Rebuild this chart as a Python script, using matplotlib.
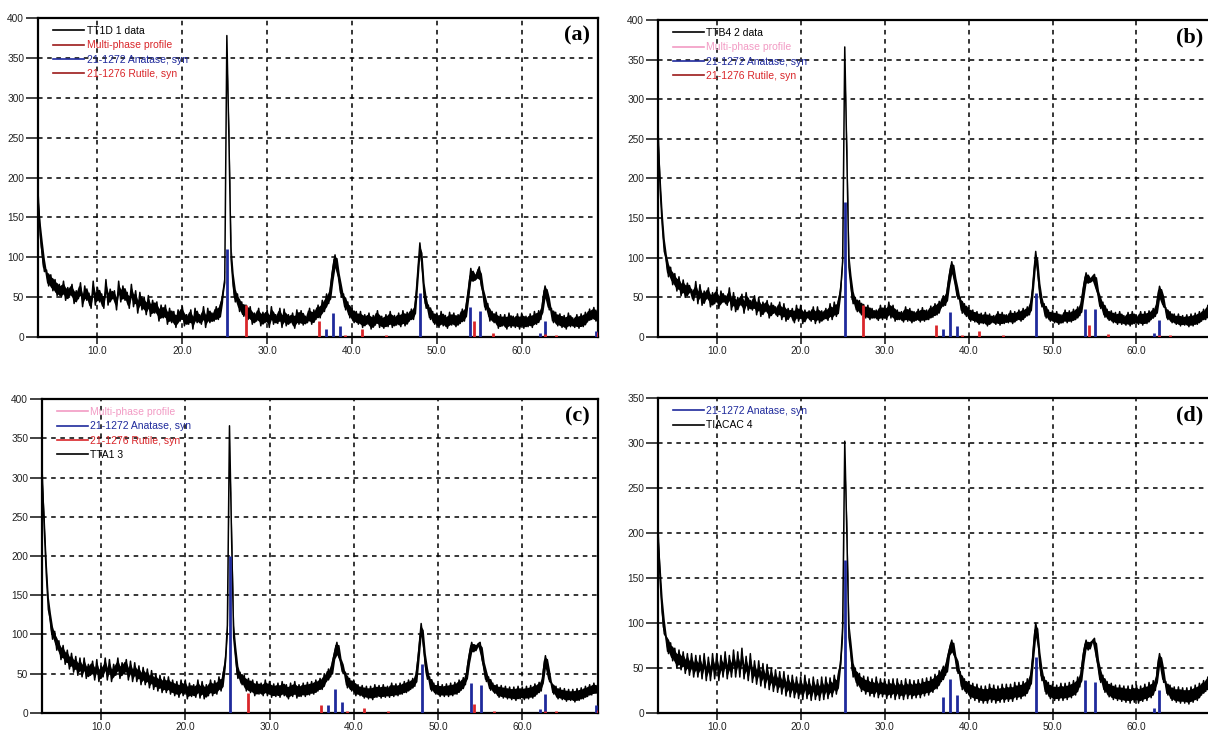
import matplotlib.pyplot as plt
import numpy as np

plt.rcParams['font.family'] = ['Liberation Sans', 'DejaVu Sans']

# 2-theta grid of the scans (deg), step 0.25
two_theta = np.arange(3.0, 69.01, 0.25)

# intensities, one group of 4 = one degree
int_a = [182, 128, 104, 82,   84, 64, 78, 58,   72, 52, 66, 50,   70, 46, 62, 52,
         66, 42, 58, 48,   68, 38, 64, 46,   55, 36, 70, 40,   62, 44, 54, 36,
         72, 40, 60, 48,   58, 34, 70, 44,   64, 46, 56, 36,   66, 38, 58, 30,
         56, 34, 50, 28,   52, 26, 46, 30,   44, 20, 40, 24,   40, 16, 36, 18,
         32, 12, 34, 20,   38, 14, 28, 16,   34, 10, 36, 18,   28, 16, 38, 12,
         36, 18, 30, 20,   38, 22, 40, 50,   68, 378, 245, 98,  64, 44, 54, 32,
         44, 26, 40, 22,   38, 16, 30, 20,   36, 14, 31, 18,   34, 12, 38, 16,
         28, 17, 36, 12,   35, 14, 28, 18,   30, 11, 34, 16,   33, 15, 26, 18,
         36, 16, 34, 22,   40, 24, 46, 32,   54, 42, 64, 86,   103, 84, 72, 50,
         54, 34, 44, 24,   36, 18, 32, 16,   32, 12, 28, 16,   30, 10, 27, 15,
         33, 12, 26, 11,   28, 13, 32, 12,   27, 15, 30, 13,   33, 14, 31, 20,
         35, 22, 46, 82,   118, 90, 52, 36,  40, 22, 32, 16,   30, 12, 32, 14,
         27, 11, 31, 15,   30, 13, 28, 17,   35, 20, 42, 60,   86, 70, 72, 80,
         88, 64, 54, 34,   42, 20, 32, 18,   31, 11, 28, 14,   28, 10, 30, 12,
         26, 12, 29, 10,   30, 11, 26, 13,   29, 12, 32, 16,   33, 22, 47, 64,
         52, 34, 36, 18,   31, 14, 29, 12,   27, 10, 30, 13,   24, 12, 28, 11,
         29, 13, 31, 19,   35, 22, 37, 20,   27]

int_b = [264, 188, 142, 108,  98, 76, 88, 66,   80, 58, 76, 52,   72, 50, 68, 56,
         60, 46, 70, 42,   66, 40, 58, 48,   62, 38, 56, 42,   60, 36, 58, 44,
         52, 40, 62, 34,   56, 32, 50, 40,   54, 30, 56, 34,   46, 34, 52, 28,
         50, 26, 44, 32,   46, 24, 43, 30,   38, 26, 44, 22,   42, 20, 36, 26,
         36, 18, 40, 20,   40, 17, 34, 24,   33, 20, 38, 17,   38, 18, 33, 22,
         36, 21, 42, 22,   44, 26, 45, 58,   96, 366, 228, 88,  62, 42, 50, 32,
         46, 28, 41, 24,   40, 22, 36, 24,   34, 21, 40, 22,   38, 22, 44, 24,
         40, 20, 34, 22,   32, 19, 38, 20,   36, 18, 32, 21,   35, 19, 37, 20,
         34, 22, 39, 25,   42, 28, 45, 37,   52, 40, 62, 80,   95, 78, 64, 48,
         50, 30, 42, 26,   37, 20, 34, 19,   32, 16, 30, 17,   31, 14, 29, 18,
         27, 16, 32, 15,   31, 17, 28, 18,   33, 17, 32, 21,   34, 20, 36, 25,
         38, 28, 46, 78,   108, 82, 52, 38,  42, 24, 34, 20,   33, 18, 32, 16,
         28, 18, 34, 18,   33, 19, 35, 22,   38, 27, 46, 66,   81, 68, 70, 76,
         79, 61, 52, 36,   44, 25, 35, 21,   33, 18, 31, 16,   32, 16, 27, 15,
         31, 14, 32, 17,   27, 16, 32, 15,   32, 17, 33, 22,   36, 26, 46, 64,
         54, 38, 37, 22,   32, 18, 29, 16,   29, 14, 27, 15,   28, 13, 29, 14,
         30, 16, 32, 20,   35, 22, 40, 28,   42]

int_c = [312, 238, 178, 132,  118, 94, 104, 80,  92, 68, 86, 62,   80, 56, 76, 52,
         72, 48, 70, 46,   70, 44, 62, 48,   66, 42, 68, 40,   60, 46, 70, 42,
         68, 40, 62, 48,   70, 44, 64, 50,   68, 42, 66, 40,   64, 40, 60, 36,
         58, 36, 56, 32,   54, 30, 50, 28,   48, 26, 46, 26,   46, 24, 42, 22,
         40, 20, 42, 22,   42, 18, 38, 21,   36, 20, 42, 19,   40, 18, 36, 22,
         42, 22, 41, 24,   46, 28, 50, 64,   112, 366, 222, 96,  68, 44, 52, 36,
         48, 28, 44, 26,   42, 22, 40, 24,   38, 22, 42, 22,   40, 20, 37, 21,
         38, 20, 40, 22,   36, 18, 38, 21,   40, 19, 36, 21,   38, 21, 39, 23,
         40, 24, 42, 28,   44, 30, 50, 40,   56, 46, 66, 78,   90, 72, 64, 50,
         52, 32, 44, 28,   42, 22, 36, 22,   35, 19, 34, 18,   34, 17, 36, 20,
         35, 19, 36, 20,   34, 20, 38, 21,   37, 22, 38, 24,   40, 26, 42, 30,
         44, 34, 56, 84,   114, 90, 60, 43,  46, 28, 38, 24,   37, 21, 36, 21,
         37, 21, 38, 22,   39, 24, 42, 29,   45, 36, 60, 76,   90, 78, 84, 88,
         90, 68, 56, 40,   46, 29, 38, 25,   36, 20, 35, 19,   34, 18, 33, 17,
         33, 16, 34, 18,   33, 17, 34, 18,   35, 19, 37, 24,   39, 28, 54, 73,
         56, 40, 38, 24,   34, 18, 32, 17,   31, 15, 30, 16,   30, 14, 31, 16,
         32, 18, 34, 21,   36, 23, 38, 25,   33]

int_d = [206, 148, 112, 88,   84, 66, 78, 58,   72, 50, 70, 48,   68, 44, 66, 42,
         66, 40, 64, 40,   64, 38, 66, 36,   62, 36, 66, 38,   66, 36, 64, 40,
         68, 38, 64, 40,   70, 40, 68, 40,   72, 38, 63, 36,   66, 34, 58, 32,
         58, 30, 55, 28,   54, 26, 50, 24,   48, 23, 46, 21,   46, 19, 42, 18,
         42, 17, 40, 16,   40, 15, 42, 16,   38, 14, 40, 15,   37, 14, 40, 15,
         40, 16, 39, 18,   42, 21, 44, 54,   96, 302, 198, 84,  64, 40, 50, 30,
         44, 24, 41, 21,   40, 19, 38, 18,   40, 17, 38, 18,   38, 16, 37, 17,
         38, 15, 38, 16,   36, 15, 38, 16,   37, 16, 36, 17,   37, 17, 38, 19,
         39, 20, 40, 23,   43, 27, 47, 35,   52, 42, 62, 72,   81, 66, 60, 44,
         46, 26, 38, 22,   35, 16, 33, 14,   32, 12, 30, 11,   30, 11, 32, 12,
         31, 11, 30, 12,   32, 12, 32, 13,   32, 13, 34, 15,   34, 16, 35, 19,
         38, 27, 46, 76,   100, 86, 52, 36,  40, 21, 34, 16,   32, 14, 31, 14,
         33, 14, 33, 15,   34, 17, 36, 20,   40, 29, 52, 70,   81, 70, 78, 80,
         83, 62, 50, 34,   42, 23, 35, 18,   33, 15, 31, 14,   31, 13, 30, 12,
         30, 11, 31, 12,   31, 11, 30, 13,   32, 14, 34, 17,   36, 25, 50, 66,
         52, 34, 35, 20,   31, 14, 29, 12,   29, 11, 28, 11,   28, 10, 29, 12,
         31, 14, 33, 20,   36, 24, 40, 28,   42]

# reference patterns (stick positions, deg)
anatase_pos = [25.28, 36.95, 37.80, 38.57, 48.05, 53.89, 55.06, 62.12, 62.69, 68.76]
rutile_pos = [27.45, 36.09, 39.19, 41.23, 44.05, 54.32, 56.64, 62.74, 64.04, 69.01]

anatase_a = [110, 10, 30, 14, 55, 38, 32, 5, 20, 8]
rutile_a = [40, 20, 3, 10, 2, 20, 5, 4, 3, 6]
anatase_b = [170, 10, 32, 14, 55, 35, 35, 5, 22, 10]
rutile_b = [40, 15, 2, 7, 2, 15, 4, 3, 2, 5]
anatase_c = [200, 10, 30, 14, 62, 38, 35, 5, 24, 10]
rutile_c = [25, 10, 2, 6, 2, 12, 3, 3, 2, 4]
anatase_d = [170, 18, 38, 20, 62, 37, 35, 6, 26, 10]

sample_names = ['TT1D 1 data', 'TTB4 2 data', 'TTA1 3', 'TIACAC 4']
panel_tags = ['(a)', '(b)', '(c)', '(d)']
y_tops = [400, 400, 400, 350]

BLUE = '#1f2a9c'
RED = '#d9262a'
DKRED = '#9c1a1a'
PINK = '#f29bc4'

fig = plt.figure(figsize=(12.08, 7.35), dpi=100)
# axes boxes in figure fractions
boxes = [[0.0315, 0.5415, 0.4636, 0.434],
         [0.5447, 0.5415, 0.4586, 0.4313],
         [0.0348, 0.0300, 0.4603, 0.4270],
         [0.5447, 0.0299, 0.4586, 0.4286]]

data = [int_a, int_b, int_c, int_d]
anat = [anatase_a, anatase_b, anatase_c, anatase_d]
rut = [rutile_a, rutile_b, rutile_c, None]

for i in range(4):
    ax = fig.add_axes(boxes[i])
    y = np.array(data[i], dtype=float)
    # dense part of the noise: most of the spread of each point and its neighbours
    yp = np.pad(y, 1, mode='edge')
    hi = np.max([yp[:-2], yp[1:-1], yp[2:]], axis=0)
    lo = np.min([yp[:-2], yp[1:-1], yp[2:]], axis=0)
    r = hi - lo
    core_lo = np.clip(lo + 0.12 * r, y - 16, y + 16)
    core_hi = np.clip(hi - 0.12 * r, y - 16, y + 16)
    core_hi = np.maximum(core_hi, core_lo)
    ax.fill_between(two_theta, core_lo, core_hi, color='black', lw=0, zorder=3)
    ax.plot(two_theta, y, color='black', lw=1.1, zorder=3)
    ax.vlines(anatase_pos, 0, anat[i], color=BLUE, lw=2.0, zorder=4)
    if rut[i] is not None:
        ax.vlines(rutile_pos, 0, rut[i], color=RED, lw=2.0, zorder=4)

    # legend entries
    h_data, = ax.plot([], [], color='black', lw=1.2)
    h_an, = ax.plot([], [], color=BLUE, lw=1.2)
    h_ru, = ax.plot([], [], color=DKRED, lw=1.2)
    if i == 0:
        h_mp, = ax.plot([], [], color=DKRED, lw=1.2)
        handles = [h_data, h_mp, h_an, h_ru]
        labels = [sample_names[0], 'Multi-phase profile', '21-1272 Anatase, syn', '21-1276 Rutile, syn']
        tcols = ['black', RED, BLUE, RED]
    elif i == 1:
        h_mp, = ax.plot([], [], color=PINK, lw=1.2)
        handles = [h_data, h_mp, h_an, h_ru]
        labels = [sample_names[1], 'Multi-phase profile', '21-1272 Anatase, syn', '21-1276 Rutile, syn']
        tcols = ['black', PINK, BLUE, RED]
    elif i == 2:
        h_mp, = ax.plot([], [], color=PINK, lw=1.2)
        h_ru2, = ax.plot([], [], color=RED, lw=1.2)
        handles = [h_mp, h_an, h_ru2, h_data]
        labels = ['Multi-phase profile', '21-1272 Anatase, syn', '21-1276 Rutile, syn', sample_names[2]]
        tcols = [PINK, BLUE, RED, 'black']
    else:
        handles = [h_an, h_data]
        labels = ['21-1272 Anatase, syn', sample_names[3]]
        tcols = [BLUE, 'black']
    leg = ax.legend(handles, labels, loc='upper left', bbox_to_anchor=(0.015, 0.995),
                    frameon=False, fontsize=7.5, handlelength=3.0, handletextpad=0.25,
                    labelspacing=0.42, borderaxespad=0.2)
    for txt, c in zip(leg.get_texts(), tcols):
        txt.set_color(c)
    leg.set_zorder(6)

    ax.text(0.985, 0.975, panel_tags[i], transform=ax.transAxes, ha='right', va='top',
            fontsize=16, fontweight='bold', family='Liberation Serif')

    ax.set_xlim(3, 69)
    ax.set_ylim(0, y_tops[i])
    ax.set_xticks([10, 20, 30, 40, 50, 60])
    ax.set_xticklabels(['10.0', '20.0', '30.0', '40.0', '50.0', '60.0'])
    ax.set_yticks(np.arange(0, y_tops[i] + 1, 50))
    ax.tick_params(axis='both', direction='out', labelsize=7.3, colors='#222222', width=1.2)
    ax.tick_params(axis='y', length=9, pad=1)
    ax.tick_params(axis='x', length=5, pad=1.5)
    ax.grid(True, color='black', linestyle=(0, (3, 3)), lw=1.1)
    ax.set_axisbelow(True)
    for s in ax.spines.values():
        s.set_linewidth(1.6)

fig.savefig('out.png', dpi=100)
